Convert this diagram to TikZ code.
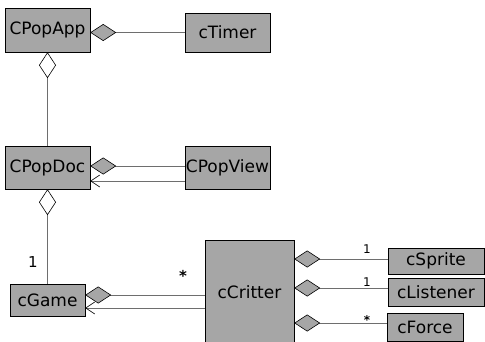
\documentclass[tikz,border=0pt]{standalone}
\usepackage{fontspec}
\setmainfont{DejaVu Sans}
\usetikzlibrary{arrows.meta}
\definecolor{classgray}{HTML}{A6A6A6}
\definecolor{linegray}{HTML}{6E6E6E}

\tikzset{
	cls/.style={draw=black,fill=classgray,inner sep=0pt,font=\fontsize{17}{18}\selectfont},
	agg/.style={draw=linegray,line width=0.9pt,-{Diamond[length=26pt,width=17pt,color=black,fill=classgray,line width=0.6pt]}},
	aggo/.style={draw=linegray,line width=0.9pt,-{Diamond[length=26pt,width=17pt,color=black,fill=white,line width=0.6pt]}},
	nav/.style={draw=linegray,line width=0.9pt,-{Straight Barb[length=9pt,width=12pt,color=black,line width=0.6pt]}},
	mult/.style={inner sep=0pt,font=\fontsize{15}{15}\selectfont},
	smult/.style={inner sep=0pt,font=\fontsize{12}{12}\selectfont}
}

\begin{document}
\begin{tikzpicture}[x=1pt,y=-1pt]
	\useasboundingbox (0,0) rectangle (485,341);
	% classes
	\node[cls,minimum width=85pt,minimum height=44pt] (app) at (47.5,30) {CPopApp};
	\node[cls,minimum width=85pt,minimum height=39pt] (timer) at (227.5,32.5) {cTimer};
	\node[cls,minimum width=85pt,minimum height=43pt] (doc) at (47.5,167.5) {CPopDoc};
	\node[cls,minimum width=85pt,minimum height=43pt] (view) at (227.5,167.5) {CPopView};
	\node[cls,minimum width=75pt,minimum height=32pt] (game) at (47.5,300) {cGame};
	\node[cls,minimum width=89pt,minimum height=104pt] (critter) at (249.5,292) {cCritter};
	\node[cls,minimum width=96pt,minimum height=26pt] (sprite) at (436,261) {cSprite};
	\node[cls,minimum width=96pt,minimum height=28pt] (listener) at (436,292) {cListener};
	\node[cls,minimum width=76pt,minimum height=28pt] (force) at (425,327) {cForce};
	% connectors
	\draw[agg] (timer.west) -- (timer.west -| app.east);
	\draw[aggo] (doc.north) -- (app.south);
	\draw[agg] ([yshift=1.5pt]view.west) -- ([yshift=1.5pt]view.west -| doc.east);
	\draw[nav] ([yshift=-13.5pt]view.west) -- ([yshift=-13.5pt]view.west -| doc.east);
	\draw[aggo] (game.north) -- (doc.south);
	\draw[agg] ([yshift=5pt]game.east -| critter.west) -- ([yshift=5pt]game.east);
	\draw[nav] ([yshift=-8pt]game.east -| critter.west) -- ([yshift=-8pt]game.east);
	\draw[agg] ([yshift=2pt]sprite.west) -- ([yshift=2pt]sprite.west -| critter.east);
	\draw[agg] ([yshift=4pt]listener.west) -- ([yshift=4pt]listener.west -| critter.east);
	\draw[agg] ([yshift=4pt]force.west) -- ([yshift=4pt]force.west -| critter.east);
	% multiplicities
	\node[mult] (m1) at (33,262) {1};
	\node[mult] (m2) at (183,276) {\textbf{*}};
	\node[smult] (m3) at (367,249) {1};
	\node[smult] (m4) at (367,282) {1};
	\node[smult] (m5) at (367,320) {\textbf{*}};
\end{tikzpicture}
\end{document}
